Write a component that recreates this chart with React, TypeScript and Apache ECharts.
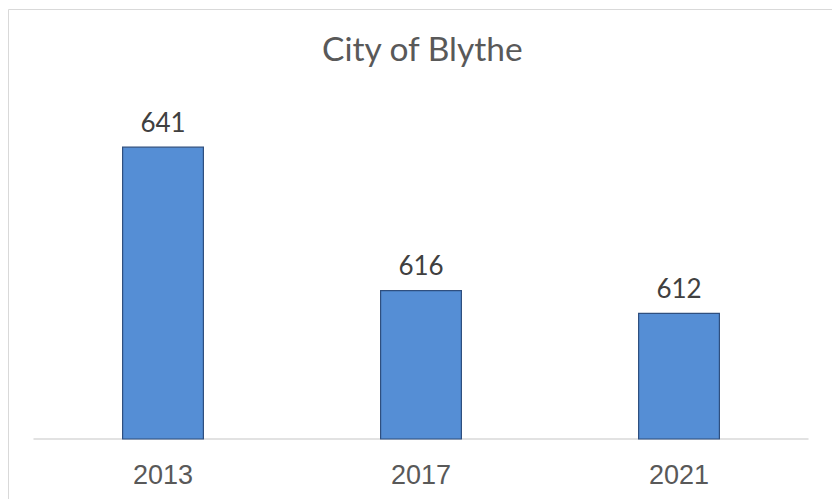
import React, { useEffect, useRef } from "react";
import * as echarts from "echarts";

const title = "City of Blythe";
const categories = ["2013", "2017", "2021"];
const values = [641, 616, 612];

export default function App() {
  const ref = useRef<HTMLDivElement>(null);
  useEffect(() => {
    if (!ref.current) return;
    const chart = echarts.init(ref.current, null, { renderer: "svg" });
    chart.setOption({
      animation: false,
      backgroundColor: "#ffffff",
      title: {
        text: title,
        left: 317,
        top: 26,
        textStyle: { fontFamily: "Lato", fontSize: 33.5, fontWeight: "normal", color: "#595959" },
      },
      graphic: [
        {
          type: "rect",
          shape: { x: 8.5, y: 9.5, width: 900, height: 600 },
          style: { fill: "none", stroke: "#d9d9d9", lineWidth: 1 },
          silent: true,
        },
      ],
      grid: { left: 34, right: 24, top: 95, bottom: 60 },
      xAxis: {
        type: "category",
        data: categories,
        axisLine: { show: true, lineStyle: { color: "#d9d9d9", width: 1.5 } },
        axisTick: { show: false },
        axisLabel: { fontFamily: "Liberation Sans", fontSize: 27, color: "#595959", margin: 22 },
      },
      yAxis: {
        type: "value",
        min: 590,
        max: 650,
        show: false,
        splitLine: { show: false },
      },
      series: [
        {
          type: "bar",
          data: values,
          barWidth: 82,
          itemStyle: { color: "#558ED5", borderColor: "#2F4F7F", borderWidth: 1.2 },
          label: {
            show: true,
            position: "top",
            distance: 12,
            fontFamily: "Lato",
            fontSize: 26,
            color: "#404040",
          },
        },
      ],
    });
    return () => chart.dispose();
  }, []);
  return (
    <div
      ref={ref}
      style={{ position: "absolute", left: 0, top: 0, width: 832, height: 499 }}
    />
  );
}
